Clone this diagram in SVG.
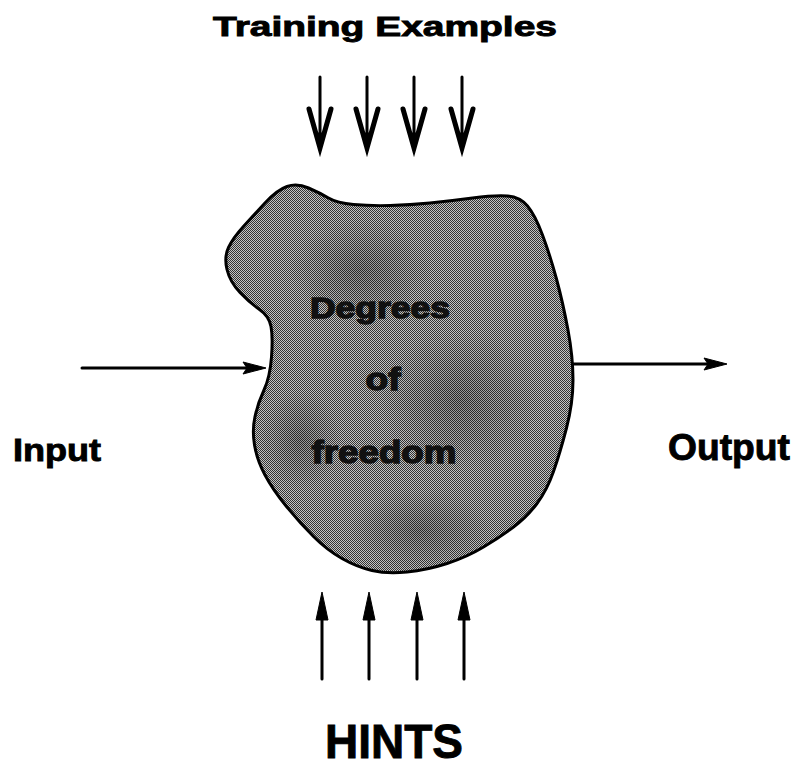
<svg xmlns="http://www.w3.org/2000/svg" width="796" height="769" viewBox="0 0 796 769">
<defs>
<pattern id="dots" width="2" height="2" patternUnits="userSpaceOnUse">
<rect width="2" height="2" fill="#c4c4c4"/>
<rect x="0" y="0" width="1" height="1" fill="#333"/>
<rect x="1" y="1" width="1" height="1" fill="#333"/>
</pattern>
<radialGradient id="shade" cx="0.5" cy="0.5" r="0.5">
<stop offset="0" stop-color="#000" stop-opacity="0.25"/>
<stop offset="1" stop-color="#000" stop-opacity="0"/>
</radialGradient>
<path id="blobp" d="M 308.5,188 Q 320,193 328.5,198 Q 337,203 353.5,204.5 Q 370,206 390,205.5 Q 410,205 430,203 Q 450,201 472.5,198 Q 495,195 507.5,196 Q 520,197 527.5,206 Q 535,215 542.5,235 Q 550,255 556.5,279 Q 563,303 568,330 Q 573,357 573,380 Q 573,403 566.5,428 Q 560,453 553.5,471.5 Q 547,490 537,503.5 Q 527,517 513.5,527 Q 500,537 483.5,547 Q 467,557 447,563.5 Q 427,570 407,572 Q 387,574 372,570.5 Q 357,567 342,558.5 Q 327,550 313.5,536.5 Q 300,523 286.5,506.5 Q 273,490 265,475 Q 257,460 254.5,445 Q 252,430 255,416.5 Q 258,403 264,390 Q 270,377 271.5,357 Q 273,337 271,326.5 Q 269,316 259.5,309.5 Q 250,303 240,292.5 Q 230,282 227,269.5 Q 224,257 228.5,247.5 Q 233,238 243,227 Q 253,216 265,203 Q 277,190 287,186.5 Q 297,183 308.5,188 Z"/>
<clipPath id="blobclip"><use href="#blobp"/></clipPath>
</defs>
<style>
.lbl{font-family:"Liberation Sans",Arial,Helvetica,sans-serif;font-weight:bold;fill:#000;stroke:#000;stroke-width:0.9}
.inner{font-family:"Liberation Sans",Arial,Helvetica,sans-serif;font-weight:bold;fill:#111;stroke:#111;stroke-width:1.4;text-anchor:middle}
.shaft{stroke:#000;stroke-width:3;fill:none;stroke-linecap:round}
.vhead{stroke:#000;stroke-width:5;fill:none;stroke-linejoin:miter;stroke-linecap:round}
.head{fill:#000;stroke:#000;stroke-width:1}
</style>
<g id="blob">
<use href="#blobp" fill="url(#dots)"/>
<g clip-path="url(#blobclip)">
<ellipse cx="360" cy="270" rx="70" ry="50" fill="url(#shade)"/>
<ellipse cx="460" cy="400" rx="80" ry="70" fill="url(#shade)"/>
<ellipse cx="420" cy="530" rx="70" ry="40" fill="url(#shade)"/>
<ellipse cx="300" cy="440" rx="40" ry="50" fill="url(#shade)"/>
</g>
<use href="#blobp" fill="none" stroke="#000" stroke-width="3"/>
<text class="inner" x="380" y="318" font-size="30" textLength="140" lengthAdjust="spacingAndGlyphs">Degrees</text>
<text class="inner" x="383" y="390" font-size="31" textLength="35" lengthAdjust="spacingAndGlyphs">of</text>
<text class="inner" x="384" y="463" font-size="32" textLength="145" lengthAdjust="spacingAndGlyphs">freedom</text>
</g>
<g id="title">
<text class="lbl" x="213" y="36" font-size="27" textLength="344" lengthAdjust="spacingAndGlyphs">Training Examples</text>
</g>
<g id="input">
<text class="lbl" x="13" y="461" font-size="32" textLength="88" lengthAdjust="spacingAndGlyphs">Input</text>
</g>
<g id="output">
<text class="lbl" x="668" y="460" font-size="37" textLength="122" lengthAdjust="spacingAndGlyphs">Output</text>
</g>
<g id="hints">
<text class="lbl" x="325" y="758" font-size="48" textLength="138" lengthAdjust="spacingAndGlyphs">HINTS</text>
</g>
<g id="connectors">
<line class="shaft" x1="320" y1="77" x2="320" y2="146"/>
<polyline class="vhead" points="309,109 320,148 331,109"/>
<polygon class="head" points="317,133 323,133 320,150"/>
<line class="shaft" x1="367" y1="77" x2="367" y2="146"/>
<polyline class="vhead" points="356,109 367,148 378,109"/>
<polygon class="head" points="364,133 370,133 367,150"/>
<line class="shaft" x1="414" y1="77" x2="414" y2="146"/>
<polyline class="vhead" points="403,109 414,148 425,109"/>
<polygon class="head" points="411,133 417,133 414,150"/>
<line class="shaft" x1="462" y1="77" x2="462" y2="146"/>
<polyline class="vhead" points="451,109 462,148 473,109"/>
<polygon class="head" points="459,133 465,133 462,150"/>
<line class="shaft" x1="322" y1="679" x2="322" y2="610" stroke-width="4"/>
<polygon class="head" points="322,592 316,620 328,620"/>
<line class="shaft" x1="369" y1="679" x2="369" y2="610" stroke-width="4"/>
<polygon class="head" points="369,592 363,620 375,620"/>
<line class="shaft" x1="417" y1="679" x2="417" y2="610" stroke-width="4"/>
<polygon class="head" points="417,592 411,620 423,620"/>
<line class="shaft" x1="464" y1="679" x2="464" y2="610" stroke-width="4"/>
<polygon class="head" points="464,592 458,620 470,620"/>
<line class="shaft" x1="82" y1="368" x2="252" y2="368"/>
<polygon class="head" points="266,368 243,362 247,368 243,374"/>
<line class="shaft" x1="573" y1="364" x2="712" y2="364"/>
<polygon class="head" points="727,364 704,358 708,364 704,370"/>
</g>
</svg>
